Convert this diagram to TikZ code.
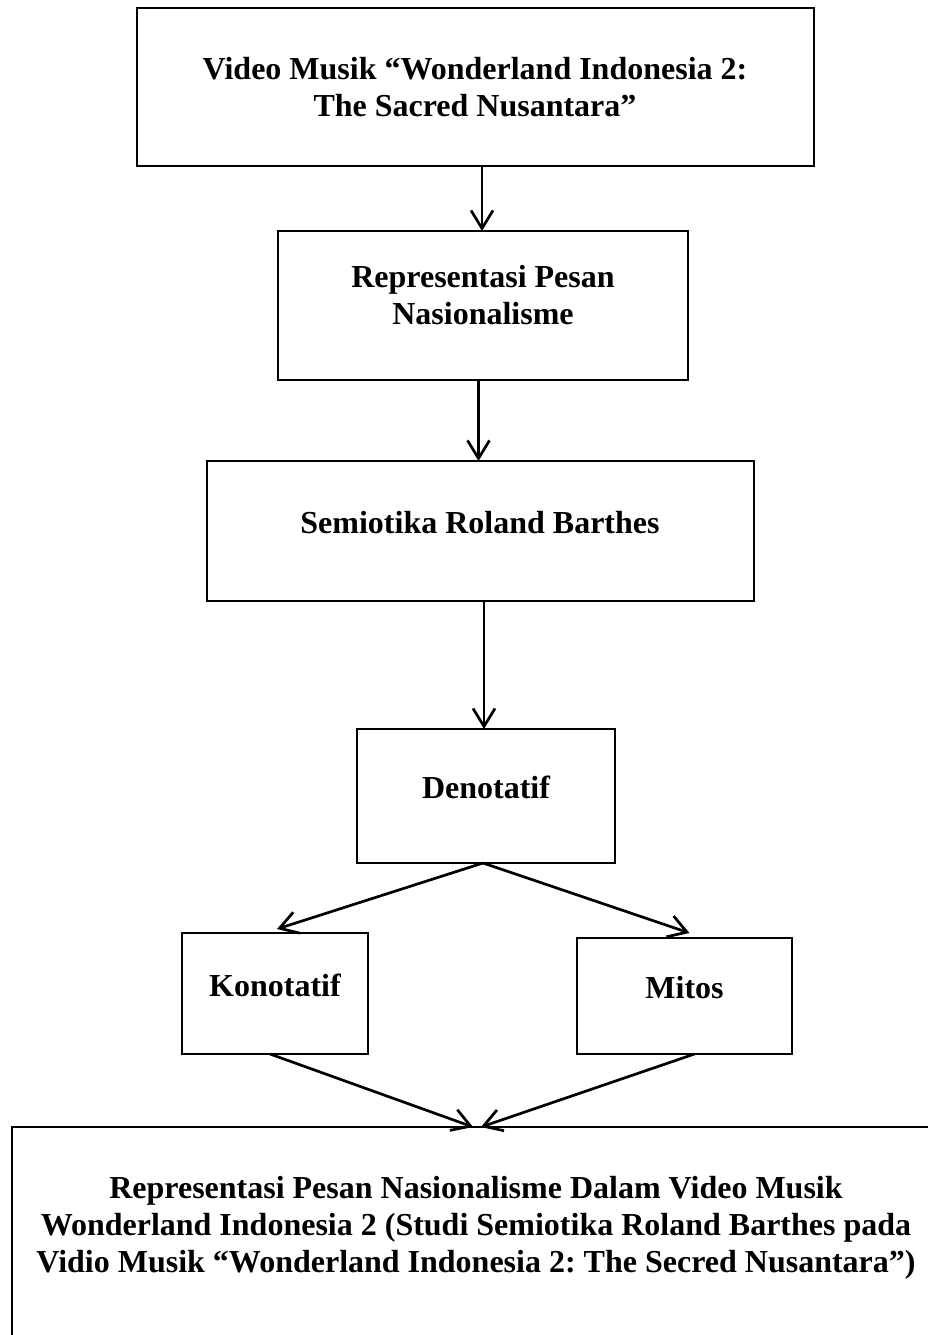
\documentclass[tikz,border=0pt]{standalone}
\usepackage{fontspec}
\setmainfont{Liberation Serif}
\usetikzlibrary{arrows.meta}
\frenchspacing
\tikzset{
  box/.style={draw, line width=2.7pt, rectangle, inner sep=0pt, outer sep=0pt},
  txt/.style={anchor=base, inner sep=0pt, font=\bfseries\fontsize{32}{37}\selectfont},
  arr/.style={line width=2.7pt, -{Straight Barb[length=18pt,width=22pt,line width=2.7pt]}},
}
\begin{document}
\begin{tikzpicture}[x=1pt,y=-1pt]
\useasboundingbox (0,0) rectangle (928,1335);
\clip (0,0) rectangle (928,1335);
\fill[white] (0,0) rectangle (928,1335);
% boxes
\node[box, minimum width=677pt, minimum height=158pt] (b1) at (475.5,87) {};
\node[box, minimum width=410pt, minimum height=149pt] (b2) at (483,305.5) {};
\node[box, minimum width=547pt, minimum height=140pt] (b3) at (480.5,531) {};
\node[box, minimum width=258pt, minimum height=134pt] (b4) at (486,796) {};
\node[box, minimum width=186pt, minimum height=121pt] (b5) at (275,993.5) {};
\node[box, minimum width=215pt, minimum height=116pt] (b6) at (684.5,996) {};
\node[box, minimum width=928pt, minimum height=218pt] (b7) at (476,1236) {};
% texts
\node[txt] (t1a) at (475,80) {Video Musik “Wonderland Indonesia 2:};
\node[txt] (t1b) at (475,117) {The Sacred Nusantara”};
\node[txt] (t2a) at (483,287) {Representasi Pesan};
\node[txt] (t2b) at (483,324) {Nasionalisme};
\node[txt] (t3) at (480,533) {Semiotika Roland Barthes};
\node[txt] (t4) at (486,798) {Denotatif};
\node[txt] (t5) at (275,996) {Konotatif};
\node[txt] (t6) at (684.5,998) {Mitos};
\node[txt] (t7a) at (476,1198) {Representasi Pesan Nasionalisme Dalam Video Musik};
\node[txt] (t7b) at (476,1235) {Wonderland Indonesia 2 (Studi Semiotika Roland Barthes pada};
\node[txt] (t7c) at (476,1272) {Vidio Musik “Wonderland Indonesia 2: The Secred Nusantara”)};
% connectors
\draw[arr] ([xshift=-1pt]b2.north |- b1.south) -- ([xshift=-1pt]b2.north);
\draw[arr] ([xshift=-2pt]b3.north |- b2.south) -- ([xshift=-2pt]b3.north);
\draw[arr] ([xshift=-2pt]b4.north |- b3.south) -- ([xshift=-2pt]b4.north);
\draw[arr] ([xshift=-3pt]b4.south) -- ([xshift=2pt,yshift=4pt]b5.north);
\draw[arr] ([xshift=-3pt]b4.south) -- ([xshift=5pt,yshift=5pt]b6.north);
\draw[arr] ([xshift=-5pt]b5.south) -- ([xshift=-3pt]b7.north);
\draw[arr] ([xshift=10pt]b6.south) -- ([xshift=5pt]b7.north);
\end{tikzpicture}
\end{document}
